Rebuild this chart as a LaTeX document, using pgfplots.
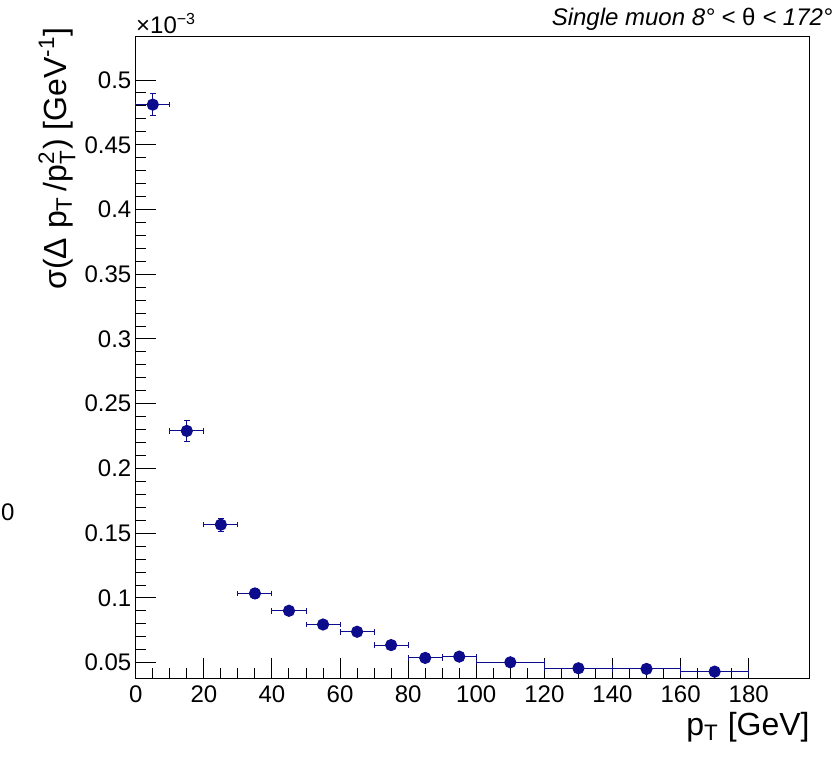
\documentclass[border=0pt]{standalone}
\usepackage{amsmath}
\usepackage{fontspec}
\setmainfont{Liberation Sans}
\usepackage{pgfplots}
\pgfplotsset{compat=1.18}
\definecolor{rootblue}{RGB}{12,12,140}

% sigma(dpT/pT^2) in units of 1e-3 GeV^-1, bins with half widths
\pgfplotstableread{
x   y       ex  ey
5   0.481   5   0.0085
15  0.229   5   0.008
25  0.1566  5   0.005
35  0.1035  5   0.004
45  0.0901  5   0.002
55  0.0795  5   0.002
65  0.0739  5   0.002
75  0.0636  5   0.0015
85  0.0537  5   0.0012
95  0.0547  5   0.0012
110 0.0503  10  0.001
130 0.0457  10  0.001
150 0.0452  10  0.001
170 0.0431  10  0.001
}\reso

\begin{document}
\begin{tikzpicture}
\begin{axis}[
  scale only axis,
  width=337pt, height=321pt,
  xmin=0, xmax=198, ymin=0.038, ymax=0.534,
  xtick={0,20,...,180}, minor x tick num=3,
  ytick={0.05,0.1,...,0.51}, minor y tick num=4,
  tick align=inside, xtick pos=left, ytick pos=left,
  major tick length=10pt, minor tick length=5pt,
  every tick/.style={black, line width=0.5pt},
  axis line style={line width=0.5pt},
  tick label style={font=\fontsize{12}{14}\selectfont},
  /pgf/number format/assume math mode=true,
  yticklabel style={/pgf/number format/fixed, /pgf/number format/precision=2, inner xsep=2pt},
  xticklabel style={inner ysep=3.5pt},
  scaled y ticks=false,
  clip=false,
]
\addplot[rootblue, line width=0.5pt, only marks,
  mark=*, mark size=2.8pt, mark options={fill=rootblue, draw=rootblue},
  error bars/.cd, x dir=both, x explicit, y dir=both, y explicit,
  error bar style={line width=0.5pt, rootblue},
  error mark options={rotate=90, rootblue, mark size=1.4pt, line width=0.5pt}]
  table[x=x, y=y, x error=ex, y error=ey] {\reso};

\node[anchor=base east, inner sep=0pt, font=\fontsize{16}{19}\selectfont]
  at ([shift={(0pt,-28.5pt)}] rel axis cs:1,0) {p$_{\text{T}}$ [GeV]};
\node[rotate=90, anchor=base east, inner sep=0pt, font=\fontsize{16}{19}\selectfont]
  at ([shift={(-34.5pt,4.5pt)}] rel axis cs:0,1)
  {σ(Δ p$_{\text{T}}$\,/p$_{\text{T}}^{\text{2}}$) [GeV$^{\text{-1}}$]};
\node[anchor=base east, inner sep=0pt, font=\fontsize{12}{14}\selectfont\itshape]
  at ([shift={(11.5pt,5.5pt)}] rel axis cs:1,1) {Single muon 8° < {\upshape θ} < 172°};
\node[anchor=base west, inner sep=0pt, font=\fontsize{12}{14}\selectfont]
  at ([shift={(0pt,1.5pt)}] rel axis cs:0,1) {×10$^{\text{−3}}$};
\node[anchor=base west, inner sep=0pt, font=\fontsize{12}{14}\selectfont]
  at ([shift={(-67.5pt,79pt)}] rel axis cs:0,0) {0};
\end{axis}
\path (current axis.south west) ++(-67.85pt,-40pt) coordinate (bl);
\path (current axis.north east) ++(13pt,18pt) coordinate (tr);
\pgfresetboundingbox
\path[use as bounding box] (bl) rectangle (tr);
\end{tikzpicture}
\end{document}
